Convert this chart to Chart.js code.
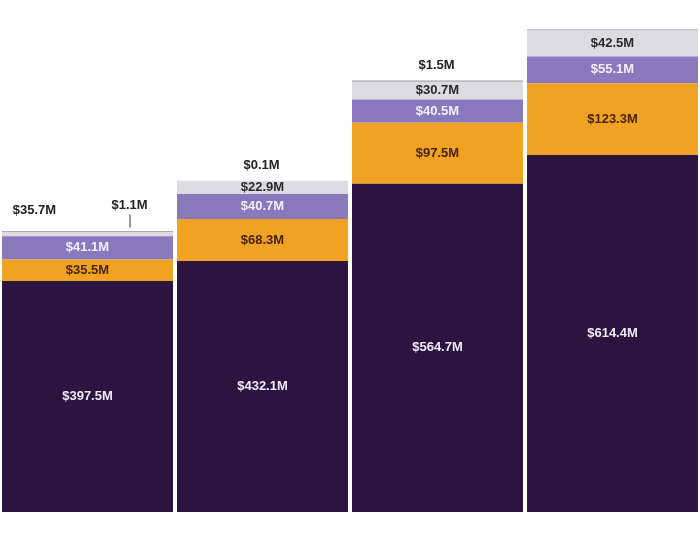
<!DOCTYPE html>
<html>
<head>
<meta charset="utf-8">
<script src="https://cdn.jsdelivr.net/npm/chart.js@4"></script>
<style>
  html, body { margin: 0; padding: 0; background: #fff; }
  #wrap { width: 700px; height: 540px; }
</style>
</head>
<body>
<div id="wrap"><canvas id="chart" width="700" height="540"></canvas></div>
<script>
const categories = ['Period 1', 'Period 2', 'Period 3', 'Period 4'];

// segment values, $M, bottom to top
const baseVals = [397.5, 432.1, 564.7, 614.4];
const orangeVals = [37, 72, 105, 123.3];
const purpleVals = [40, 43, 40, 46];
const greyVals = [7, 22.9, 31, 45];
const topVals = [1.1, 0.1, 1.5, 1.5];

// label texts as printed on the chart
const baseLabels = ['$397.5M', '$432.1M', '$564.7M', '$614.4M'];
const orangeLabels = ['$35.5M', '$68.3M', '$97.5M', '$123.3M'];
const purpleLabels = ['$41.1M', '$40.7M', '$40.5M', '$55.1M'];
const greyLabels = ['$35.7M', '$22.9M', '$30.7M', '$42.5M'];
const topLabels = ['$1.1M', '$0.1M', '$1.5M', ''];

const textColors = ['#efe8f6', '#4a2300', '#f3eeff', '#2a2a2a', '#222'];

const segLabels = {
  id: 'segLabels',
  afterDatasetsDraw(chart) {
    const ctx = chart.ctx;
    ctx.save();
    ctx.font = 'bold 13px "Liberation Sans", Arial, sans-serif';
    ctx.textAlign = 'center';
    ctx.textBaseline = 'middle';
    chart.data.datasets.forEach((ds, i) => {
      const meta = chart.getDatasetMeta(i);
      meta.data.forEach((bar, j) => {
        const txt = ds.labelsText[j];
        if (!txt) return;
        const h = Math.abs(bar.base - bar.y);
        if (h >= 12) {
          ctx.fillStyle = textColors[i];
          ctx.fillText(txt, bar.x, (bar.y + bar.base) / 2);
          return;
        }
        // small segments: label above the bar
        ctx.fillStyle = '#222';
        const top = chart.getDatasetMeta(chart.data.datasets.length - 1).data[j].y;
        if (i === 3) {
          ctx.fillText(txt, bar.x - 53, top - 21);
        } else if (j === 0) {
          ctx.fillText(txt, bar.x + 42, top - 26);
          ctx.strokeStyle = '#333';
          ctx.lineWidth = 1;
          ctx.beginPath();
          ctx.moveTo(bar.x + 42.5, top - 17);
          ctx.lineTo(bar.x + 42.5, top - 4);
          ctx.stroke();
        } else {
          ctx.fillText(txt, bar.x - 1, top - 15);
        }
      });
    });
    ctx.restore();
  }
};

function ds(label, data, color, texts) {
  return {
    label: label,
    data: data,
    backgroundColor: color,
    labelsText: texts,
    borderWidth: 0,
    barPercentage: 0.977,
    categoryPercentage: 1.0
  };
}

new Chart(document.getElementById('chart').getContext('2d'), {
  type: 'bar',
  data: {
    labels: categories,
    datasets: [
      ds('Base', baseVals, '#2b1540', baseLabels),
      ds('Orange', orangeVals, '#f0a323', orangeLabels),
      ds('Purple', purpleVals, '#8a78bd', purpleLabels),
      ds('Grey', greyVals, '#dcdbe2', greyLabels),
      ds('Top', topVals, ['#555', '#555', '#3a3a3a', '#9a8c9c'], topLabels)
    ]
  },
  options: {
    responsive: false,
    animation: false,
    layout: { padding: { left: 0, right: 0, top: 0, bottom: 28 } },
    plugins: { legend: { display: false }, tooltip: { enabled: false } },
    scales: {
      x: { stacked: true, display: false },
      y: { stacked: true, display: false, min: 0, max: 881 }
    }
  },
  plugins: [segLabels]
});
</script>
</body>
</html>
